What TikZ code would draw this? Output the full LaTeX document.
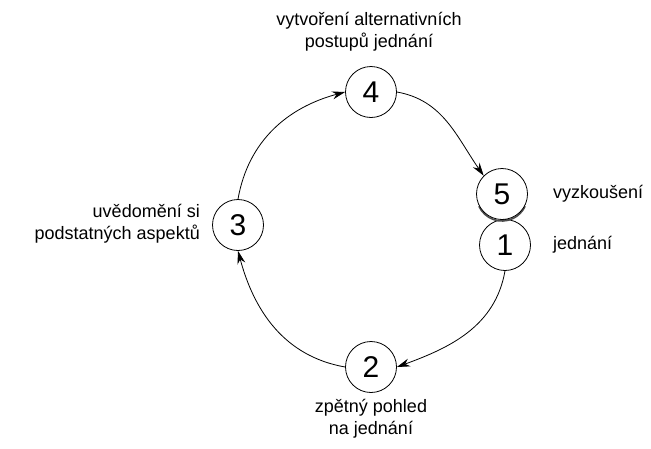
\documentclass[tikz,border=0pt]{standalone}
\usepackage{fontspec}
\setmainfont{Liberation Sans}
\usetikzlibrary{arrows.meta,calc}
\begin{document}
\begin{tikzpicture}[x=1pt,y=1pt,
  stage/.style={circle,draw,line width=0.8pt,fill=white,minimum size=51pt,inner sep=0pt,font=\fontsize{30}{30}\selectfont},
  lbl/.style={font=\fontsize{18}{22}\selectfont,inner sep=0pt},
  flow/.style={line width=0.8pt,-{Stealth[length=13pt,width=8pt]}}]
\useasboundingbox (0,0) rectangle (651,-448);
\node[stage] (c4) at (371,-92) {4};
\node[stage] (c3) at (238,-225) {3};
\node[stage] (c2) at (371,-367) {2};
\node[stage] (c1) at (505,-245) {1};
\draw[line width=1.6pt,black!70] ($(502,-195.5)+(205:25.5)$) arc[start angle=205,end angle=335,radius=25.5];
\node[stage] (c5) at (502,-194) {5};
\node[lbl,align=center] (t4) at (369,-32) {vytvoření alternativních\\postupů jednání};
\node[lbl,align=right,anchor=east] (t3) at (200,-224) {uvědomění si\\podstatných aspektů};
\node[lbl,align=center] (t2) at (371,-419) {zpětný pohled\\na jednání};
\node[lbl,anchor=west] (t5) at (553,-194) {vyzkoušení};
\node[lbl,anchor=west] (t1) at (553,-245) {jednání};
\draw[flow] (c3.north) to[out=80,in=195] (c4.west);
\draw[flow] (c4.east) to[out=-10,in=125] (c5.north west);
\draw[flow] (c1.south) to[out=-100,in=20] (c2.east);
\draw[flow] (c2.west) to[out=170,in=-75] (c3.south);
\end{tikzpicture}
\end{document}
